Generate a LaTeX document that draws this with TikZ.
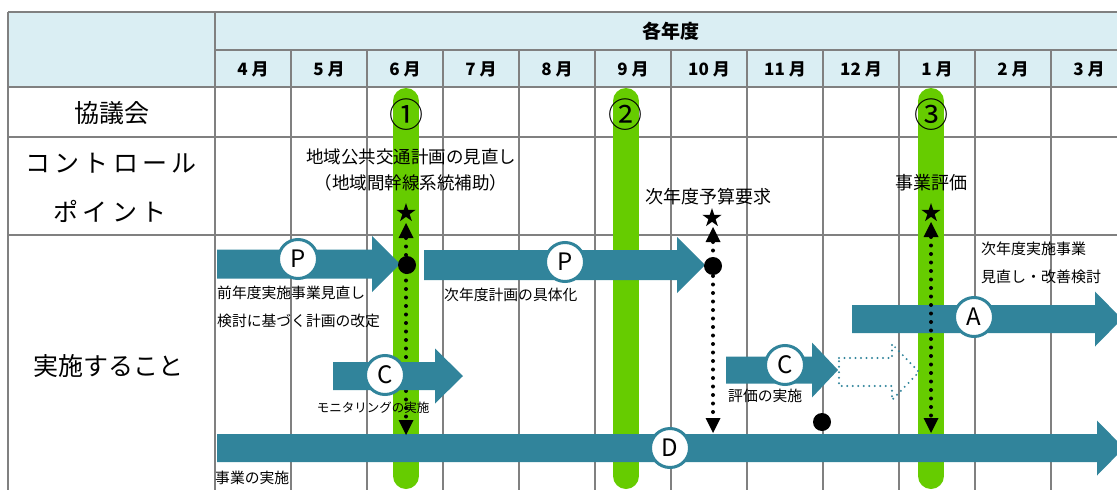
\documentclass[tikz,border=0pt]{standalone}
\usepackage{fontspec}
\setmainfont{Noto Sans CJK JP}
\usetikzlibrary{arrows.meta,shapes.geometric}
\definecolor{tealc}{HTML}{31849B}
\definecolor{hdr}{HTML}{DAEEF3}
\definecolor{grn}{HTML}{66CC00}
\definecolor{gridc}{HTML}{808080}
\newcommand\fatarrow[7]{%
  \path[#1] (#2,#5-#6) -- (#3,#5-#6) -- (#3,#5-#7) -- (#4,#5) -- (#3,#5+#7) -- (#3,#5+#6) -- (#2,#5+#6) -- cycle;}
\begin{document}
\begin{tikzpicture}[x=1pt,y=-1pt,
  gridline/.style={draw=gridc,line width=2pt},
  greenbar/.style={draw=grn,line width=26pt,line cap=round},
  solidarrow/.style={fill=tealc},
  ghostarrow/.style={draw=tealc,line width=2.2pt,dash pattern=on 0pt off 5.5pt,line cap=round},
  letter/.style={circle,draw=tealc,line width=3pt,fill=white,minimum size=39pt,inner sep=0pt,font=\fontsize{24}{24}\selectfont},
  circnum/.style={inner sep=0pt,font=\fontsize{34}{34}\selectfont},
  rowlabel/.style={inner sep=0pt,font=\fontsize{25}{25}\selectfont},
  monthlabel/.style={inner sep=0pt,font=\bfseries\fontsize{17}{17}\selectfont},
  cptext/.style={inner sep=0pt,align=center,font=\fontsize{17.5}{26}\selectfont},
  acttext/.style={inner sep=0pt,align=left,font=\fontsize{14.8}{28}\selectfont},
  starmark/.style={star,star points=5,star point ratio=2.618,minimum size=20pt,inner sep=0pt,fill=black},
  blackdot/.style={circle,fill=black,minimum size=18pt,inner sep=0pt},
  dotline/.style={line width=4pt,dash pattern=on 0pt off 8.5pt,line cap=round,
    {Triangle[width=15pt,length=15pt,line width=0pt]}-{Triangle[width=15pt,length=15pt,line width=0pt]}}
]
\useasboundingbox (0,0) rectangle (1117,490);
\clip (0,0) rectangle (1117,490);
% header fill
\fill[hdr] (8,12) rectangle (1127,87);
% grid
\draw[gridline] (8,12) -- (1127,12);
\draw[gridline] (215,50) -- (1127,50);
\draw[gridline] (8,87) -- (1127,87);
\draw[gridline] (8,137) -- (1127,137);
\draw[gridline] (8,235) -- (1127,235);
\draw[gridline] (8,12) -- (8,490);
\draw[gridline] (215,12) -- (215,490);
\foreach \i in {1,...,11} { \draw[gridline] (215+76*\i,50) -- (215+76*\i,490); }
% header texts
\node[inner sep=0pt,font=\bfseries\fontsize{19}{19}\selectfont] (yr) at (671,31) {各年度};
\foreach \m [count=\i from 0] in {4,5,6,7,8,9,10,11,12,1,2,3} {
  \node[monthlabel] (m\i) at (253+76*\i,69) {\m{} 月};
}
% row labels
\node[rowlabel] (kyo) at (112,113) {協議会};
\node[rowlabel] (cp1) at (111,163) {コ\,ン\,ト\,ロ\,ー\,ル};
\node[rowlabel] (cp2) at (110,211) {ポ\,イ\,ン\,ト};
\node[rowlabel] (jis) at (109,366) {実施すること};
% green bars
\draw[greenbar] (406,101) -- (406,476);
\draw[greenbar] (626,101) -- (626,476);
\draw[greenbar] (931,101) -- (931,476);
\node[circnum] (n1) at (406,115) {①};
\node[circnum] (n2) at (625,115) {②};
\node[circnum] (n3) at (931,115) {③};
% control point texts
\node[cptext] (cpa) at (411,170) {地域公共交通計画の見直し\\（地域間幹線系統補助）};
\node[cptext,font=\fontsize{18}{18}\selectfont] (cpb) at (708,197) {次年度予算要求};
\node[cptext,font=\fontsize{18}{18}\selectfont] (cpc) at (931,183) {事業評価};
\node[starmark] (s1) at (406,213) {};
\node[starmark] (s2) at (712,218) {};
\node[starmark] (s3) at (931,213) {};
% big arrows
\fatarrow{solidarrow}{217}{372}{400}{264}{14.5}{28}
\fatarrow{solidarrow}{424}{677}{705}{265}{15}{28}
\fatarrow{solidarrow}{217}{1097}{1124}{448}{14}{27.5}
\fatarrow{solidarrow}{852}{1095}{1122}{319}{14}{27.5}
\fatarrow{solidarrow}{726}{812}{838}{370}{13.5}{27.5}
\fatarrow{ghostarrow}{839}{892}{919}{372}{14}{28}
\node[letter] (cP1) at (298,259) {P};
\node[letter] (cP2) at (565,262) {P};
\node[letter] (cD) at (670,448) {D};
\node[letter] (cA) at (974,317) {A};
\node[letter] (cC2) at (785,365) {C};
% dotted connectors
\coordinate (t1) at (406,223);
\coordinate (b1) at (406,435);
\coordinate (t2) at (713,227);
\coordinate (b2) at (713,433);
\coordinate (t3) at (931,222);
\coordinate (b3) at (931,433);
\draw[dotline] (t1) -- (b1);
\draw[dotline] (t2) -- (b2);
\node[blackdot] (d1) at (407,265) {};
\node[blackdot] (d2) at (713,266) {};
\node[blackdot] (d3) at (822,422) {};
\fatarrow{solidarrow}{333}{435}{463}{376}{14}{27.5}
\node[letter] (cC1) at (385,375) {C};
\draw[dotline] (t3) -- (b3);
% activity texts
\node[acttext,anchor=west] (a1) at (217,307) {前年度実施事業見直し\\検討に基づく計画の改定};
\node[acttext,anchor=center,font=\fontsize{12.5}{12.5}\selectfont] (a2) at (373,408) {モニタリングの実施};
\node[acttext,anchor=west] (a3) at (444,295) {次年度計画の具体化};
\node[acttext,anchor=west] (a4) at (728,396) {評価の実施};
\node[acttext,anchor=west,font=\fontsize{15}{28}\selectfont] (a5) at (981,263) {次年度実施事業\\見直し・改善検討};
\node[acttext,anchor=west] (a6) at (215,478) {事業の実施};
\end{tikzpicture}
\end{document}
